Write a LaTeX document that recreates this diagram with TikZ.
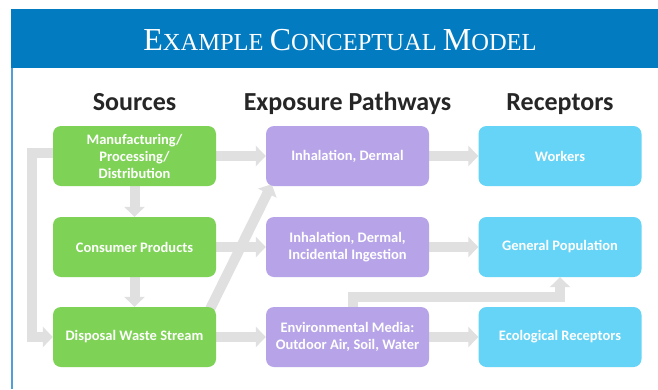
\documentclass[tikz,border=0pt]{standalone}
\usepackage{fontspec}
\setmainfont{Carlito}
\newfontfamily\titlefont{Liberation Serif}
\usepackage{tikz}
\usetikzlibrary{arrows.meta,backgrounds,positioning}
\definecolor{headblue}{RGB}{3,123,193}
\definecolor{lineblue}{RGB}{80,160,215}
\definecolor{srcgreen}{RGB}{126,211,86}
\definecolor{pathpurple}{RGB}{183,164,232}
\definecolor{rcpcyan}{RGB}{102,212,246}
\definecolor{flowgrey}{RGB}{224,224,224}
\tikzset{modelbox/.style={rectangle,rounded corners=8pt,minimum width=163pt,minimum height=60pt,
        text=white,font=\fontsize{14.5}{17}\selectfont\bfseries,align=center,inner sep=2pt},
    sourcebox/.style={modelbox,fill=srcgreen},
    pathbox/.style={modelbox,fill=pathpurple},
    receptorbox/.style={modelbox,fill=rcpcyan},
    colhead/.style={font=\fontsize{26}{30}\selectfont\bfseries,text=black!85,anchor=base},
    flow/.style={draw=flowgrey,line width=10pt,line join=miter,-{Triangle[width=20pt,length=10pt]}}
}
\newcommand{\bigsc}[2]
{% args: (initial capital, rest in small capitals)
    {\fontsize{32}{36}\selectfont #1}{\fontsize{24.5}{30}\selectfont #2}%
}

\begin{document}
\begin{tikzpicture}[x=1pt,y=-1pt]

\useasboundingbox (0,0) rectangle (658,389);

% title band
\fill[headblue] (11,9) rectangle (658,68);
\draw[lineblue,line width=1.2pt] (12,68) -- (12,389);
\node (title) [anchor=base,text=white,font=\titlefont\fontsize{24.5}{30}\selectfont] at (340,50)
    {\bigsc{E}{XAMPLE} \bigsc{C}{ONCEPTUAL} \bigsc{M}{ODEL}};

% column headings
\node (hsrc) [colhead] at (134.5,110) {Sources};
\node (hpath) [colhead] at (347.5,110) {Exposure Pathways};
\node (hrcp) [colhead] at (560,110) {Receptors};

% sources
\node (manuf) [sourcebox] at (134.5,156) {Manufacturing/\\Processing/\\Distribution};
\node (consumer) [sourcebox] at (134.5,247) {Consumer Products};
\node (disposal) [sourcebox] at (134.5,337) {Disposal Waste Stream};

% exposure pathways
\node (inhal) [pathbox] at (347.5,156) {Inhalation, Dermal};
\node (ingest) [pathbox] at (347.5,247) {Inhalation, Dermal,\\Incidental Ingestion};
\node (envmedia) [pathbox] at (347.5,337) {Environmental Media:\\Outdoor Air, Soil, Water};

% receptors
\node (workers) [receptorbox] at (560,156) {Workers};
\node (genpop) [receptorbox] at (560,247) {General Population};
\node (ecorcp) [receptorbox] at (560,337) {Ecological Receptors};

\begin{pgfonlayer}{background}
\fill[white] (0,0) rectangle (658,389);
\draw[flow] (manuf) -- (consumer);
\draw[flow] (consumer) -- (disposal);
\draw[flow] ([yshift=3pt]manuf.west) -- (32,153) |- (disposal.west);
\draw[flow] (manuf) -- (inhal);
\draw[flow] (consumer) -- (ingest);
\draw[flow] (disposal) -- (envmedia);
\draw[flow] ([xshift=-7pt,yshift=-4pt]disposal.north east) -- ([xshift=6pt,yshift=2pt]inhal.south west);
\draw[flow] (inhal) -- (workers);
\draw[flow] (ingest) -- (genpop);
\draw[flow] (envmedia) -- (ecorcp);
\draw[flow] ([xshift=5pt]envmedia.north) -- ++(0,-10) -| (genpop.south);
\end{pgfonlayer}

\end{tikzpicture}
\end{document}
